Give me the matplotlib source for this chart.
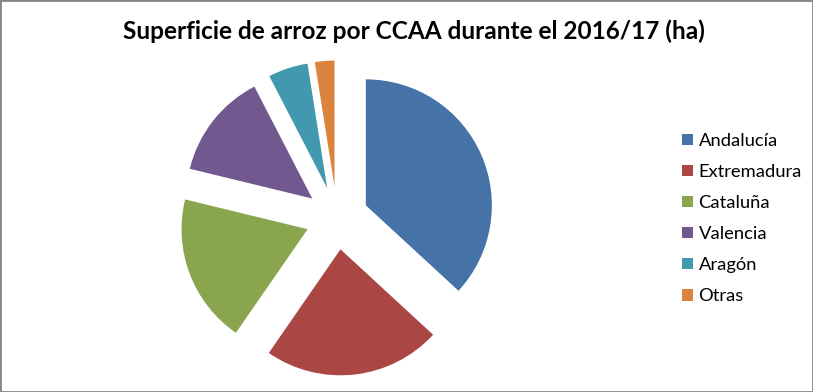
import matplotlib.pyplot as plt
from matplotlib.patches import Rectangle

# Superficie de arroz (ha) por CCAA, campaña 2016/17 (valores estimados)
regiones = ['Andalucía', 'Extremadura', 'Cataluña', 'Valencia', 'Aragón', 'Otras']
hectareas = [39800, 24600, 20700, 14700, 5500, 2700]
colores = ['#4572A7', '#AA4643', '#89A54E', '#71588F', '#4198AF', '#DB843D']

W, H = 813, 392
fig = plt.figure(figsize=(W / 100, H / 100), dpi=100)

# pie centre / radius in pixels
cx, cy, r = 337, 218, 126
lim = 1.3
size = 2 * lim * r
ax = fig.add_axes([(cx - size / 2) / W, (H - cy - size / 2) / H, size / W, size / H])

wedges, _ = ax.pie(hectareas, colors=colores, startangle=90, counterclock=False,
                   explode=[0.25] * len(hectareas),
                   wedgeprops=dict(linewidth=0))
ax.set_xlim(-lim, lim)
ax.set_ylim(-lim, lim)
ax.set_aspect('equal')
ax.axis('off')

fig.text(414 / W, (H - 31) / H, 'Superficie de arroz por CCAA durante el 2016/17 (ha)',
         ha='center', va='center', fontsize=17.6, fontweight='bold', family='Lato')

fig.legend(wedges, regiones, loc='upper left', bbox_to_anchor=(682 / W, (H - 133) / H),
           frameon=False, prop=dict(family='Lato', size=13.2),
           handlelength=0.6, handleheight=0.6, handletextpad=0.3,
           labelspacing=0.82, borderpad=0, borderaxespad=0)

fig.patches.append(Rectangle((0, 0), 1, 1, transform=fig.transFigure, fill=False,
                             edgecolor='#868686', linewidth=2))

fig.savefig('out.png', dpi=100)
plt.close(fig)
